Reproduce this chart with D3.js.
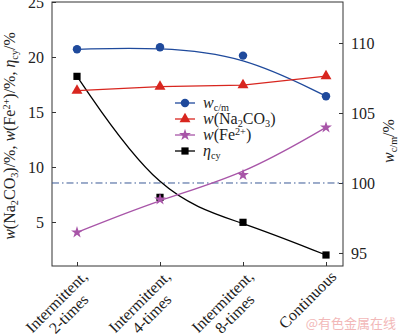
<!DOCTYPE html>
<html>
<head>
<meta charset="utf-8">
<script src="https://cdn.jsdelivr.net/npm/d3@7/dist/d3.min.js"></script>
<style>
  html, body { margin: 0; padding: 0; background: #fff; }
  svg { display: block; font-family: "Liberation Serif", "Times New Roman", serif; }
</style>
</head>
<body>
<svg id="chart" width="400" height="336"></svg>
<script>
// Operating modes on the x axis (each label may span two lines)
const categories = [
  ["Intermittent,", "2-times"],
  ["Intermittent,", "4-times"],
  ["Intermittent,", "8-times"],
  ["Continuous"]
];
// Left-axis series (%)
const na2co3 = [16.94, 17.3, 17.45, 18.27];
const fe2 = [4.06, 7.06, 9.27, 13.6];
const etaCy = [18.24, 7.24, 4.97, 2.0];
// Right-axis series (%)
const wcm = [109.55, 109.7, 109.1, 106.2];
const refLine = 100;
// Tick values
const leftTicks = [5, 10, 15, 20, 25];
const rightTicks = [95, 100, 105, 110];

const svg = d3.select("#chart");
const plot = { left: 52, right: 343, top: 2, bottom: 266 };

const x = d3.scaleLinear().domain([0, categories.length - 1]).range([77, 326]);
const yL = d3.scaleLinear().domain([1, 25]).range([plot.bottom, plot.top]);
const yR = d3.scaleLinear().domain([94.07, 112.93]).range([plot.bottom, plot.top]);

const axisColor = "#333";
const fontSize = 16;
const serif = "Liberation Serif";

// Rich-text helper: parts are {t, i (italic), sub, sup}
function rich(textSel, parts, size) {
  parts.forEach(p => {
    const ts = textSel.append("tspan").text(p.t);
    if (p.i) ts.attr("font-style", "italic");
    if (p.sub) ts.attr("font-size", size * 0.64).attr("baseline-shift", -size * 0.2);
    if (p.sup) ts.attr("font-size", size * 0.64).attr("baseline-shift", size * 0.34);
  });
  return textSel;
}

// Frame
svg.append("rect")
  .attr("x", plot.left).attr("y", plot.top)
  .attr("width", plot.right - plot.left).attr("height", plot.bottom - plot.top)
  .attr("fill", "none").attr("stroke", axisColor).attr("stroke-width", 1);

// Left axis (inward ticks)
const gL = svg.append("g").attr("transform", `translate(${plot.left},0)`)
  .call(d3.axisLeft(yL).tickValues(leftTicks).tickSizeInner(-4).tickSizeOuter(0).tickPadding(8));
// Right axis (inward ticks)
const gR = svg.append("g").attr("transform", `translate(${plot.right},0)`)
  .call(d3.axisRight(yR).tickValues(rightTicks).tickSizeInner(-4).tickSizeOuter(0).tickPadding(8));
// Bottom axis (inward ticks, custom labels)
const gB = svg.append("g").attr("transform", `translate(0,${plot.bottom})`)
  .call(d3.axisBottom(x).tickValues(d3.range(categories.length)).tickSizeInner(-4).tickSizeOuter(0).tickFormat(""));

[gL, gR, gB].forEach(g => {
  g.attr("font-family", serif).attr("font-size", fontSize);
  g.select(".domain").remove();
  g.selectAll(".tick line").attr("stroke", axisColor);
  g.selectAll(".tick text").attr("fill", "#222");
});

// Rotated category labels
categories.forEach((lines, i) => {
  const g = svg.append("g")
    .attr("transform", `translate(${x(i) + 3},${plot.bottom + 3}) rotate(-45)`);
  const texts = lines.map((ln, k) => g.append("text")
    .attr("font-size", fontSize).attr("fill", "#222")
    .attr("text-anchor", "middle")
    .attr("y", 12 + k * 17)
    .text(ln));
  const w = d3.max(texts, t => t.node().getComputedTextLength());
  texts.forEach(t => t.attr("x", -w / 2));
});

// Axis titles
rich(svg.append("text")
  .attr("transform", `translate(15,136) rotate(-90)`)
  .attr("text-anchor", "middle").attr("font-size", fontSize).attr("fill", "#222"),
  [{t: "w", i: true}, {t: "(Na"}, {t: "2", sub: true}, {t: "CO"}, {t: "3", sub: true},
   {t: ")/%, "}, {t: "w", i: true}, {t: "(Fe"}, {t: "2+", sup: true}, {t: ")/%, "},
   {t: "η", i: true}, {t: "cy", sub: true}, {t: "/%"}], fontSize);

rich(svg.append("text")
  .attr("transform", `translate(394,141) rotate(-90)`)
  .attr("text-anchor", "middle").attr("font-size", fontSize).attr("fill", "#222"),
  [{t: "w", i: true}, {t: "c/m", sub: true}, {t: "/%"}], fontSize);

// Reference dash-dot line at 100 % on the right axis
svg.append("line")
  .attr("x1", plot.left).attr("x2", plot.right)
  .attr("y1", yR(refLine)).attr("y2", yR(refLine))
  .attr("stroke", "#3b5a96").attr("stroke-width", 1)
  .attr("stroke-dasharray", "7,3,1.5,3");

// Series definitions
const series = [
  { name: "eta", data: etaCy, y: yL, color: "#000000", curve: d3.curveBasis, symbol: d3.symbolSquare, size: 52 },
  { name: "wcm", data: wcm, y: yR, color: "#1f4a9c", curve: d3.curveBasis, symbol: d3.symbolCircle, size: 56 },
  { name: "na", data: na2co3, y: yL, color: "#d8261f", curve: d3.curveLinear, symbol: d3.symbolTriangle, size: 52 },
  { name: "fe", data: fe2, y: yL, color: "#a855a8", curve: d3.curveBasis, symbol: d3.symbolStar, size: 44 }
];

series.forEach(s => {
  const line = d3.line().x((d, i) => x(i)).y(d => s.y(d)).curve(s.curve);
  svg.append("path").datum(s.data)
    .attr("d", line).attr("fill", "none")
    .attr("stroke", s.color).attr("stroke-width", 1.3);
  svg.append("g").selectAll("path").data(s.data).join("path")
    .attr("transform", (d, i) => `translate(${x(i)},${s.y(d)})`)
    .attr("d", d3.symbol().type(s.symbol).size(s.size))
    .attr("fill", s.color);
});

// Legend
const legendItems = [
  { s: series[1], parts: [{t: "w", i: true}, {t: "c/m", sub: true}] },
  { s: series[2], parts: [{t: "w", i: true}, {t: "(Na"}, {t: "2", sub: true}, {t: "CO"}, {t: "3", sub: true}, {t: ")"}] },
  { s: series[3], parts: [{t: "w", i: true}, {t: "(Fe"}, {t: "2+", sup: true}, {t: ")"}] },
  { s: series[0], parts: [{t: "η", i: true}, {t: "cy", sub: true}] }
];
const legendY = [103, 119, 135, 151];
legendItems.forEach((it, k) => {
  const g = svg.append("g").attr("transform", `translate(175,${legendY[k]})`);
  g.append("line").attr("x1", 0).attr("x2", 20).attr("y1", 0).attr("y2", 0)
    .attr("stroke", it.s.color).attr("stroke-width", 1.3);
  g.append("path").attr("transform", "translate(10,0)")
    .attr("d", d3.symbol().type(it.s.symbol).size(it.s.size)).attr("fill", it.s.color);
  rich(g.append("text").attr("x", 28).attr("y", 5).attr("font-size", fontSize).attr("fill", "#222"),
    it.parts, fontSize);
});

// Source mark
svg.append("text")
  .attr("x", 396).attr("y", 328).attr("text-anchor", "end")
  .attr("font-family", "Noto Sans CJK SC").attr("font-size", 13)
  .attr("fill", "#f2b8b8")
  .text("@有色金属在线");
</script>
</body>
</html>
